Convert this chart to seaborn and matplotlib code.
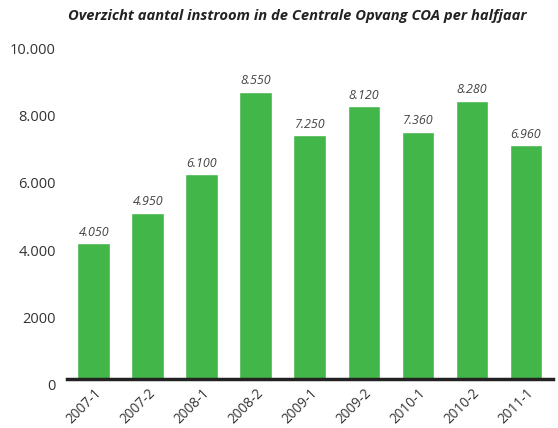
import matplotlib
matplotlib.use("Agg")
import matplotlib.pyplot as plt
import matplotlib.transforms as mtransforms
import seaborn as sns
import pandas as pd

# data
periods = ["2007-1", "2007-2", "2008-1", "2008-2", "2009-1",
           "2009-2", "2010-1", "2010-2", "2011-1"]
instroom = [4050, 4950, 6100, 8550, 7250, 8120, 7360, 8280, 6960]
ytick_values = [0, 2000, 4000, 6000, 8000, 10000]
ytick_labels = ["0", "2000", "4.000", "6.000", "8.000", "10.000"]

sns.set_style("white")
plt.rcParams["font.family"] = ["Open Sans", "DejaVu Sans"]

df = pd.DataFrame({"periode": periods, "instroom": instroom})

fig = plt.figure(figsize=(5.58, 4.28), dpi=100)
ax = fig.add_axes([0.12, 0.1145, 0.871, 0.785])

sns.barplot(data=df, x="periode", y="instroom", color="#43b649",
            saturation=1, width=0.61, ax=ax)

for i, v in enumerate(instroom):
    lbl = f"{v:,}".replace(",", ".")
    ax.text(i, v + 130, lbl, ha="center", va="bottom", fontsize=9,
            style="italic", color="#444444")

ax.set_xlim(-0.5, 8.5)
ax.set_ylim(0, 10000)
ax.set_yticks(ytick_values)
ax.set_yticklabels(ytick_labels, fontsize=10.5, color="#333333")
ax.set_xticks(range(len(periods)))
ax.set_xticklabels(periods, rotation=45, ha="right", rotation_mode="anchor",
                   fontsize=9.8, color="#333333")
ax.tick_params(axis="y", length=0, pad=8)
ax.tick_params(axis="x", length=0, pad=5)
ax.set_xlabel("")
ax.set_ylabel("")

# y labels sit a little below their tick in the original
shift = mtransforms.ScaledTranslation(0, -4 / 72, fig.dpi_scale_trans)
for t in ax.get_yticklabels():
    t.set_transform(t.get_transform() + shift)

for s in ["top", "right", "left"]:
    ax.spines[s].set_visible(False)
ax.spines["bottom"].set_color("#222222")
ax.spines["bottom"].set_linewidth(2.5)

fig.text(0.533, 0.962, "Overzicht aantal instroom in de Centrale Opvang COA per halfjaar",
         ha="center", va="center", fontsize=10.6, fontweight="bold",
         style="italic", color="#222222")

fig.savefig("out.png", dpi=100)
